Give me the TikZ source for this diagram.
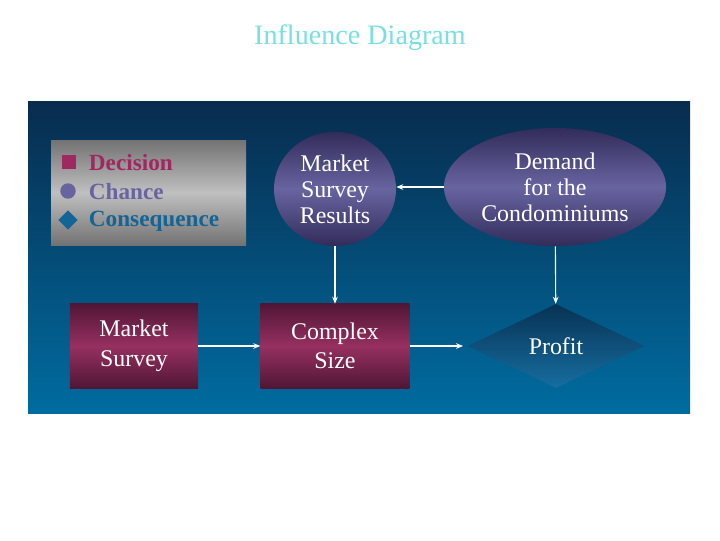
\documentclass[tikz,border=0pt]{standalone}
\usepackage{fontspec}
\setmainfont{Liberation Serif}
\usepackage{xcolor}
\usetikzlibrary{arrows.meta,positioning,shapes.geometric}

\definecolor{paneltop}{RGB}{8,44,78}
\definecolor{panelbot}{RGB}{0,108,160}
\definecolor{decdark}{RGB}{80,22,54}
\definecolor{decmid}{RGB}{150,48,96}
\definecolor{chadark}{RGB}{50,44,90}
\definecolor{chamid}{RGB}{104,100,160}
\definecolor{contop}{RGB}{8,50,84}
\definecolor{conbot}{RGB}{22,110,160}
\definecolor{titlecyan}{RGB}{120,224,224}
\definecolor{legdec}{RGB}{160,40,96}
\definecolor{legcha}{RGB}{104,100,160}
\definecolor{legcon}{RGB}{20,100,150}

\tikzset{
  decision/.style={rectangle,align=center,text=white,font=\fontsize{17}{21}\selectfont,
    top color=decdark,bottom color=decdark,middle color=decmid,
    minimum width=#1,minimum height=2.1cm},
  chance/.style={ellipse,align=center,text=white,font=\fontsize{17}{18.5}\selectfont,
    top color=chadark,bottom color=chadark,middle color=chamid,inner sep=0pt},
  consequence/.style={diamond,align=center,text=white,font=\fontsize{17}{21}\selectfont,
    top color=contop,bottom color=conbot,inner sep=0pt,aspect=2.1},
  keytext/.style={anchor=west,font=\fontsize{16.5}{18}\selectfont\bfseries},
  link/.style={-{Stealth[length=5pt,width=4pt]},white,line width=0.8pt}
}

\begin{document}
\begin{tikzpicture}[x=0.025cm,y=-0.025cm]
  \useasboundingbox[fill=white] (0,0) rectangle (720,540);
  \shade[top color=paneltop,bottom color=panelbot] (28,101) rectangle (690,413);

  \node[text=titlecyan,font=\fontsize{20}{24}\selectfont] (title) at (360,38) {Influence Diagram};

  % legend
  \shade[top color=black!55,bottom color=black!55,middle color=black!25] (51,140) rectangle (246,245);
  \node[rectangle,fill=legdec,minimum size=10pt,inner sep=0pt] (keysq) at (69,162) {};
  \node[circle,fill=legcha,minimum size=11pt,inner sep=0pt] (keyci) at (68,191) {};
  \node[diamond,fill=legcon,minimum size=14pt,inner sep=0pt] (keydi) at (68,220) {};
  \node[keytext,text=legdec] (keydec) at (84,163) {Decision};
  \node[keytext,text=legcha] (keycha) at (84,192) {Chance};
  \node[keytext,text=legcon] (keycon) at (84,221) {Consequence};

  % nodes
  \node[decision=3.2cm] (survey) at (134,346) {Market\\Survey};
  \node[decision=3.72cm] (size) at (335,346) {Complex\\Size};
  \node[chance,minimum width=3.05cm,minimum height=2.85cm] (results) at (335,189) {Market\\Survey\\Results};
  \node[chance,minimum width=5.55cm,minimum height=2.95cm] (demand) at (555,187) {Demand\\for the\\Condominiums};
  \node[consequence,minimum width=4.42cm,minimum height=2.1cm] (profit) at (556,346) {Profit};

  \draw[link] (demand.west) -- (demand.west -| results.east);
  \draw[link] (results) -- (size);
  \draw[link] (demand) -- (profit);
  \draw[link] (survey) -- (size);
  \draw[link] (size) -- ([xshift=-3pt]profit.west);
\end{tikzpicture}
\end{document}
